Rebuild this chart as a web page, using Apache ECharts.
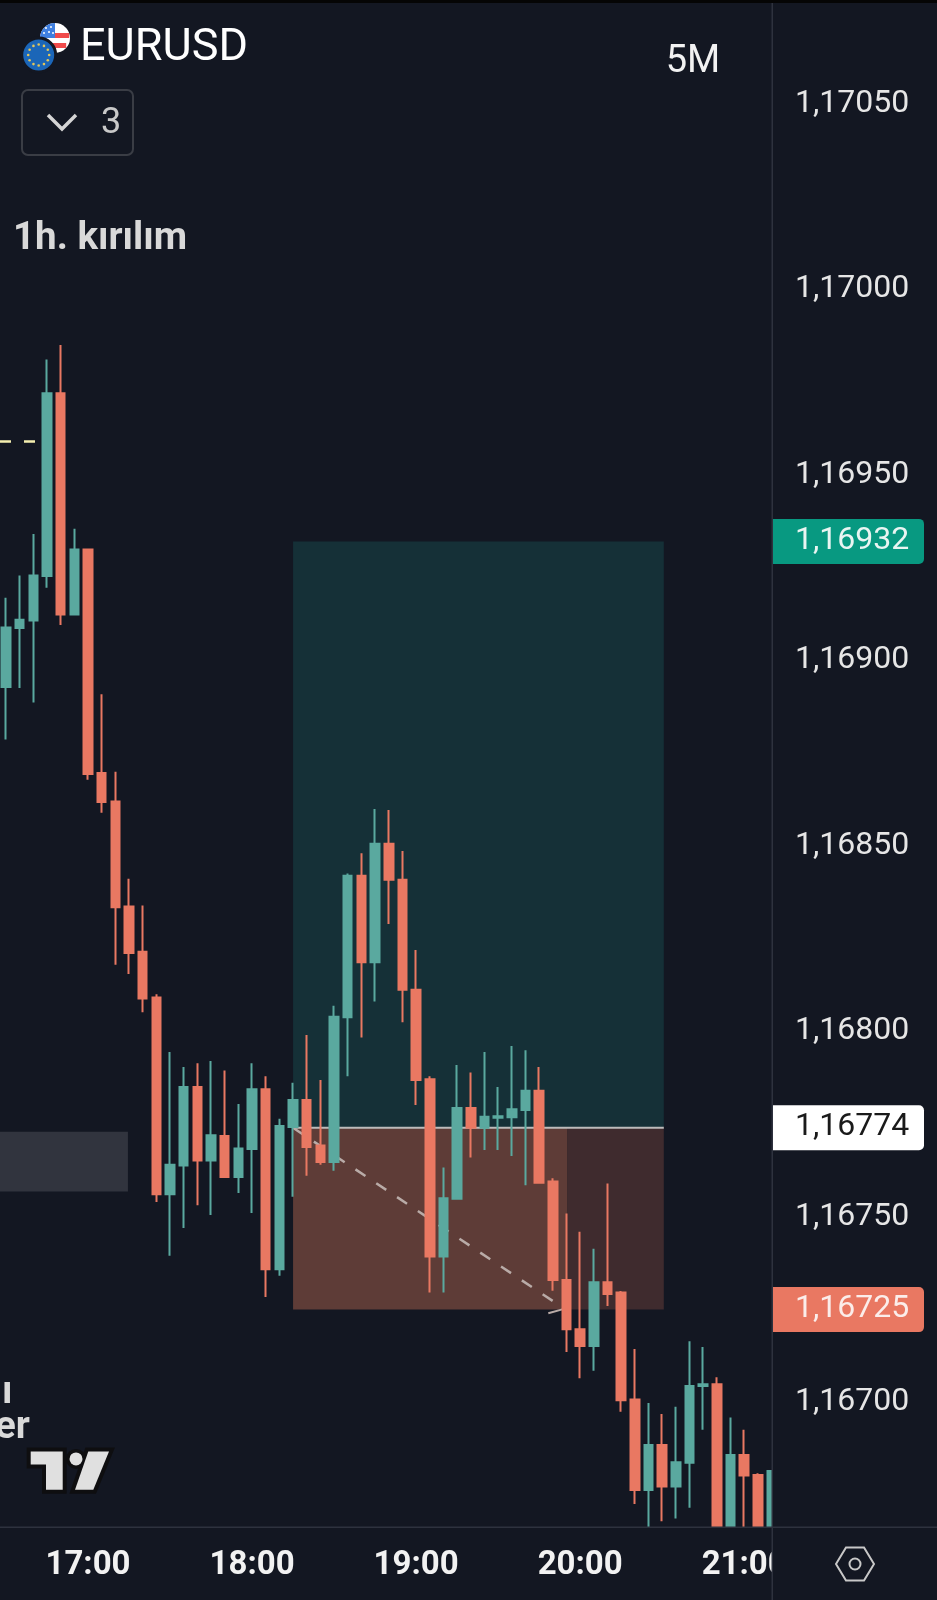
<!DOCTYPE html>
<html><head><meta charset="utf-8">
<style>html,body{margin:0;padding:0;background:#131722}#c{width:937px;height:1600px}</style>
<script src="https://cdn.jsdelivr.net/npm/echarts@6/dist/echarts.min.js"></script>
</head><body><div id="c"></div>
<script>
const times = ['16:30','16:35','16:40','16:45','16:50','16:55','17:00','17:05','17:10','17:15','17:20','17:25',
'17:30','17:35','17:40','17:45','17:50','17:55','18:00','18:05','18:10','18:15','18:20','18:25',
'18:30','18:35','18:40','18:45','18:50','18:55','19:00','19:05','19:10','19:15','19:20','19:25',
'19:30','19:35','19:40','19:45','19:50','19:55','20:00','20:05','20:10','20:15','20:20','20:25',
'20:30','20:35','20:40','20:45','20:50','20:55','21:00','21:05','21:10'];
const open = [1.168928,1.169087,1.169107,1.169227,1.169719,1.169123,1.169298,1.168696,1.168619,1.168336,1.168214,1.168091,
1.167561,1.167638,1.167850,1.167652,1.167718,1.167607,1.167683,1.167844,1.167359,1.167742,1.167815,1.167692,
1.167648,1.168038,1.168419,1.168186,1.168505,1.168408,1.168112,1.167871,1.167393,1.167549,1.167793,1.167740,
1.167767,1.167768,1.167788,1.167840,1.167595,1.167330,1.167197,1.167152,1.167324,1.167296,1.167008,1.166764,
1.166885,1.166773,1.166837,1.167044,1.167049,1.166664,1.166858,1.166804,1.166664];
const close = [1.169088,1.169109,1.169228,1.169719,1.169123,1.169298,1.168693,1.168618,1.168334,1.168211,1.168088,1.167561,
1.167640,1.167850,1.167652,1.167720,1.167607,1.167684,1.167844,1.167359,1.167745,1.167815,1.167688,1.167648,
1.168039,1.168419,1.168186,1.168505,1.168408,1.168112,1.167869,1.167393,1.167550,1.167793,1.167740,1.167770,
1.167771,1.167790,1.167840,1.167592,1.167330,1.167197,1.167152,1.167324,1.167292,1.167006,1.166764,1.166885,
1.166773,1.166839,1.167044,1.167049,1.166664,1.166858,1.166803,1.166664,1.166815];
const low = [1.168786,1.168925,1.168886,1.169195,1.169095,1.169123,1.168678,1.168589,1.168179,1.168154,1.168051,1.167540,
1.167395,1.167470,1.167531,1.167505,1.167607,1.167564,1.167510,1.167284,1.167341,1.167554,1.167611,1.167640,
1.167624,1.167879,1.167983,1.168080,1.168289,1.168024,1.167801,1.167296,1.167296,1.167549,1.167660,1.167680,
1.167680,1.167664,1.167585,1.167592,1.167301,1.167136,1.167065,1.167085,1.167260,1.166975,1.166726,1.166664,
1.166680,1.166687,1.166716,1.166926,1.166664,1.166664,1.166664,1.166664,1.166664];
const high = [1.169168,1.169228,1.169340,1.169810,1.169849,1.169354,1.169298,1.168908,1.168699,1.168411,1.168339,1.168100,
1.167944,1.167904,1.167914,1.167920,1.167894,1.167804,1.167914,1.167879,1.167764,1.167861,1.167990,1.167869,
1.168069,1.168425,1.168480,1.168599,1.168596,1.168486,1.168219,1.167879,1.167633,1.167909,1.167889,1.167944,
1.167850,1.167960,1.167949,1.167904,1.167604,1.167509,1.167460,1.167414,1.167590,1.167300,1.167144,1.166998,
1.166969,1.166988,1.167165,1.167149,1.167068,1.166959,1.166926,1.166809,1.166815];
const timeTicks = ['17:00','18:00','19:00','20:00','21:00'];
const priceTicks = [1.1670,1.1675,1.1680,1.1685,1.1690,1.1695,1.1700,1.1705];
const priceTags = {'1.16932':'green','1.16774':'white','1.16725':'red'};
const targetPrice = 1.16932, entryPrice = 1.16774, stopPrice = 1.16725;
const keyLevel = 1.169589;
const greyZone = [1.167729,1.167568];

const UP='#5AA99F', DOWN='#E97862', BG='#131722', LINE='#2E323E';
const toMin = s => { const [h,m] = s.split(':').map(Number); return h*60+m; };
const minutes = times.map(toMin);
const candles = minutes.map((m,i)=>[m,open[i],close[i],low[i],high[i]]);
const tagVals = Object.keys(priceTags).map(Number);

const usStripes = [];
[[23,'#F04B4B'],[28,'#fff'],[33,'#F04B4B'],[38,'#fff'],[43,'#F04B4B'],[48,'#fff']].forEach(([y,c])=>{
  const h=5, d=Math.max(Math.abs(y-38),Math.abs(y+h-38)), w=Math.sqrt(Math.max(0,225-d*d));
  usStripes.push({type:'rect',shape:{x:55-w,y:y,width:2*w,height:h},style:{fill:c},z:50});
});
const usDots=[];
[[46,28],[51,27],[44,33],[49,32],[53,33]].forEach(([x,y])=>usDots.push({type:'circle',z:51,shape:{cx:x,cy:y,r:1},style:{fill:'#fff'}}));
const stars=[];
for(let k=0;k<12;k++){const a=k*Math.PI/6;stars.push({type:'circle',shape:{cx:38.7+10.5*Math.cos(a),cy:55+10.5*Math.sin(a),r:1.3},style:{fill:'#E3C65A'},z:53});}

const T=(x,y,text,font,fill,align,extra)=>({type:'text',z:60,style:Object.assign({x,y,text,font,fill,align:align||'left',verticalAlign:'middle'},extra||{})});
const logoT=[[30.7,1451.4],[62.7,1451.4],[62.7,1489.7],[46,1489.7],[46,1464.6],[30.7,1464.6]];
const logoS=[[88.3,1451.4],[109,1451.4],[93.3,1489.7],[75,1489.7]];

const chart = echarts.init(document.getElementById('c'),null,{renderer:'canvas'});
chart.setOption({
  animation:false,
  backgroundColor:BG,
  grid:{left:0,top:0,width:772,height:1527,containLabel:false},
  xAxis:{type:'value',min:987.81,max:1270.17,
    axisLine:{show:false},axisTick:{show:false},splitLine:{show:false},
    axisLabel:{customValues:timeTicks.map(toMin),margin:22,color:'#F2F2F2',
      fontFamily:'Roboto',fontWeight:'bold',fontSize:33,hideOverlap:false,
      formatter:v=>String(Math.floor(v/60)).padStart(2,'0')+':'+String(v%60).padStart(2,'0')}},
  yAxis:{type:'value',position:'right',min:1.1666642,max:1.1707789,scale:true,
    axisLine:{show:false},axisTick:{show:false},splitLine:{show:false},
    axisLabel:{customValues:priceTicks.concat(tagVals),margin:0,align:'left',hideOverlap:false,
      formatter:v=>{const s=v.toFixed(5),c=priceTags[s],t=s.replace('.',',');return c?`{${c}|${t}}`:`{p|${t}}`;},
      rich:{
        p:{fontFamily:'Roboto',fontSize:32,color:'#E6E6E6',padding:[0,0,0,23]},
        green:{fontFamily:'Roboto',fontSize:32,color:'#E9F5F2',backgroundColor:'#089981',width:129,height:40,lineHeight:40,padding:[2,0,3,23],borderRadius:[0,5,5,0]},
        white:{fontFamily:'Roboto',fontSize:32,color:'#1A1A1A',backgroundColor:'#FFFFFF',width:129,height:40,lineHeight:40,padding:[2,0,3,23],borderRadius:[0,5,5,0]},
        red:{fontFamily:'Roboto',fontSize:32,color:'#FBEDEA',backgroundColor:'#E97862',width:129,height:40,lineHeight:40,padding:[2,0,3,23],borderRadius:[0,5,5,0]}
      }}},
  series:[
    {type:'line',name:'zones',data:[],silent:true,z:1,
      markArea:{silent:true,z:1,label:{show:false},data:[
        [{xAxis:1095,yAxis:targetPrice,itemStyle:{color:'#153037',opacity:1}},{xAxis:1230.6,yAxis:entryPrice}],
        [{xAxis:1095,yAxis:entryPrice,itemStyle:{color:'#5E3C37',opacity:1}},{xAxis:1195.4,yAxis:stopPrice}],
        [{xAxis:1195.4,yAxis:entryPrice,itemStyle:{color:'#3F2B2E',opacity:1}},{xAxis:1230.6,yAxis:stopPrice}],
        [{xAxis:987.81,yAxis:greyZone[0],itemStyle:{color:'#31343E',opacity:1}},{xAxis:1034.6,yAxis:greyZone[1]}]
      ]}},
    {type:'line',name:'entry',z:2,silent:true,symbol:'none',data:[[1095,entryPrice],[1230.6,entryPrice]],lineStyle:{color:'#BDBBBB',width:2}},
    {type:'line',name:'path',z:2,silent:true,symbol:'none',data:[[1095,entryPrice],[1194.1,1.167253]],lineStyle:{color:'#B9ABA7',width:2.5,type:[12,13]}},
    {type:'line',name:'arrow',z:2,silent:true,symbol:'none',data:[[1194.1,1.167252],[1188.35,1.167240]],lineStyle:{color:'#B9ABA7',width:2}},
    {type:'line',name:'level',z:2,silent:true,symbol:'none',data:[[987.81,keyLevel],[1001,keyLevel]],lineStyle:{color:'#F5EFB0',width:2.5,type:[11,13]}},
    {type:'candlestick',name:'EURUSD',z:3,clip:true,silent:true,barWidth:9,encode:{x:0,y:[1,2,3,4]},data:candles,
      itemStyle:{color:UP,color0:DOWN,borderColor:UP,borderColor0:DOWN,borderWidth:2,borderColorDoji:UP}}
  ],
  graphic:[
    {type:'rect',z:40,shape:{x:772,y:1450,width:30,height:78},style:{fill:BG}},
    {type:'rect',z:40,shape:{x:772,y:1528,width:165,height:72},style:{fill:BG}},
    {type:'rect',z:41,shape:{x:0,y:1526.5,width:937,height:1.5},style:{fill:LINE}},
    {type:'rect',z:41,shape:{x:771.5,y:0,width:1.5,height:1600},style:{fill:LINE}},
    {type:'rect',z:42,shape:{x:0,y:0,width:937,height:3},style:{fill:'#050505'}},
    {type:'circle',z:49,shape:{cx:55,cy:38,r:15},style:{fill:'#fff'}},
    ...usStripes,
    {type:'sector',z:50.5,shape:{cx:55,cy:38,r:15,r0:0,startAngle:Math.PI,endAngle:Math.PI*1.5,clockwise:true},style:{fill:'#3F7FE0'}},
    ...usDots,
    {type:'circle',z:52,shape:{cx:38.7,cy:55,r:17},style:{fill:'#1B66B8',stroke:BG,lineWidth:3}},
    ...stars,
    T(80,49,'EURUSD','400 45px Roboto','#FFFFFF'),
    T(693,62,'5M','400 38px Roboto','#F2F2F2','center'),
    {type:'rect',z:60,shape:{x:22,y:90,width:111,height:65,r:6},style:{fill:'none',stroke:'#3A3D45',lineWidth:2}},
    {type:'polyline',z:60,shape:{points:[[48,115],[62,129],[76,115]]},style:{fill:'none',stroke:'#D5D5D5',lineWidth:3.5}},
    T(111,124,'3','400 36px Roboto','#C9C9C9','center'),
    T(13,239,'1h. kırılım','700 38.5px Roboto','#D9D9D9'),
    T(2,1393,'ı','700 38.5px Roboto','#D9D9D9'),
    T(-5,1428,'er','700 38.5px Roboto','#D9D9D9'),
    {type:'polygon',z:58,shape:{points:logoT},style:{fill:'#0E0E10',stroke:'#0E0E10',lineWidth:8,lineJoin:'miter'}},
    {type:'polygon',z:58,shape:{points:logoS},style:{fill:'#0E0E10',stroke:'#0E0E10',lineWidth:8,lineJoin:'miter'}},
    {type:'circle',z:58,shape:{cx:76,cy:1458.9,r:10},style:{fill:'#0E0E10'}},
    {type:'polygon',z:59,shape:{points:logoT},style:{fill:'#E0E0E0'}},
    {type:'polygon',z:59,shape:{points:logoS},style:{fill:'#E0E0E0'}},
    {type:'circle',z:59,shape:{cx:76,cy:1458.9,r:6.5},style:{fill:'#E0E0E0'}},
    {type:'polygon',z:60,shape:{points:[[836,1564],[846,1547.5],[864,1547.5],[874,1564],[864,1580.5],[846,1580.5]]},style:{fill:'none',stroke:'#C8C8C8',lineWidth:2}},
    {type:'circle',z:60,shape:{cx:855,cy:1564,r:5.5},style:{fill:'none',stroke:'#C8C8C8',lineWidth:2}}
  ]
});
</script></body></html>
